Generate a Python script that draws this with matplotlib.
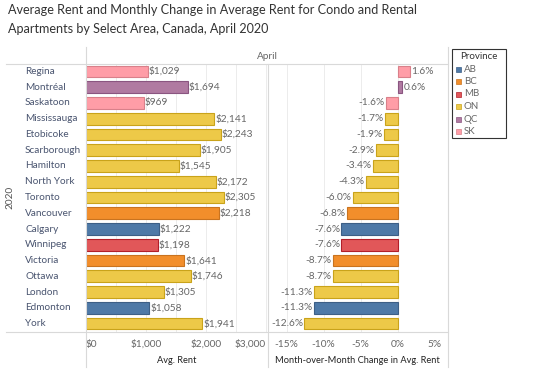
import matplotlib
matplotlib.use("Agg")
import matplotlib.pyplot as plt
from matplotlib.patches import Rectangle
from matplotlib.lines import Line2D

plt.rcParams['font.family'] = ['Lato', 'DejaVu Sans']

cities = ["Regina", "Montréal", "Saskatoon", "Mississauga", "Etobicoke", "Scarborough",
          "Hamilton", "North York", "Toronto", "Vancouver", "Calgary", "Winnipeg",
          "Victoria", "Ottawa", "London", "Edmonton", "York"]
provinces = ["SK", "QC", "SK", "ON", "ON", "ON", "ON", "ON", "ON", "BC", "AB", "MB",
             "BC", "ON", "ON", "AB", "ON"]
avg_rent = [1029, 1694, 969, 2141, 2243, 1905, 1545, 2172, 2305, 2218, 1222, 1198,
            1641, 1746, 1305, 1058, 1941]
mom_change = [1.6, 0.6, -1.6, -1.7, -1.9, -2.9, -3.4, -4.3, -6.0, -6.8, -7.6, -7.6,
              -8.7, -8.7, -11.3, -11.3, -12.6]

legend_provs = ["AB", "BC", "MB", "ON", "QC", "SK"]
prov_colors = {"AB": "#4e79a7", "BC": "#f28e2b", "MB": "#e15759",
               "ON": "#edc948", "QC": "#b07aa1", "SK": "#ff9da7"}
prov_edges = {"AB": "#3d5f86", "BC": "#c9731f", "MB": "#b21f2a",
              "ON": "#c9a31a", "QC": "#8a5580", "SK": "#d9808a"}

rent_ticks = [0, 1000, 2000, 3000]
rent_tick_labels = ["$0", "$1,000", "$2,000", "$3,000"]
pct_ticks = [-15, -10, -5, 0, 5]
pct_tick_labels = ["-15%", "-10%", "-5%", "0%", "5%"]

W, H = 542, 390
fig = plt.figure(figsize=(W / 100, H / 100), dpi=100)

def fx(px):
    return px / W

def fy(py):
    return 1 - py / H

top_px, bot_px = 63.5, 331.5
x0_px, xmid_px, x1_px = 86, 267.5, 448

ax1 = fig.add_axes([fx(x0_px), fy(bot_px), fx(xmid_px - x0_px), (bot_px - top_px) / H])
ax2 = fig.add_axes([fx(xmid_px), fy(bot_px), fx(x1_px - xmid_px), (bot_px - top_px) / H])

n = len(cities)
ypos = list(range(n))
colors = [prov_colors[p] for p in provinces]
edges = [prov_edges[p] for p in provinces]

grid_c = "#ececec"
txt_c = "#666666"
fs = 7.3

ax1.set_xlim(0, (xmid_px - x0_px) / 60 * 1000)
for g in [500, 1000, 1500, 2000, 2500, 3000]:
    ax1.axvline(g, color=grid_c, lw=0.7, zorder=0)
ax1.barh(ypos, avg_rent, height=0.74, color=colors, edgecolor=edges, linewidth=0.8, zorder=2)
for y, v in zip(ypos, avg_rent):
    ax1.text(v + 12, y, f"${v:,}", va="center", ha="left", fontsize=fs, color=txt_c, zorder=3)

ax2.set_xlim(-17.6, 6.8)
for g in [-15, -10, -5, 0]:
    ax2.axvline(g, color=grid_c, lw=0.7, zorder=0)
ax2.barh(ypos, mom_change, height=0.74, color=colors, edgecolor=edges, linewidth=0.8, zorder=2)
for y, v in zip(ypos, mom_change):
    if v >= 0:
        ax2.text(v + 0.2, y, f"{v:.1f}%", va="center", ha="left", fontsize=fs, color=txt_c, zorder=3)
    else:
        ax2.text(v - 0.2, y, f"{v:.1f}%", va="center", ha="right", fontsize=fs, color=txt_c, zorder=3)

for ax in (ax1, ax2):
    ax.set_ylim(n - 0.5, -0.5)
    ax.set_yticks([])
    for s in ax.spines.values():
        s.set_visible(False)
    ax.tick_params(axis="x", length=0, labelsize=fs, labelcolor=txt_c, pad=6)

ax1.set_xticks(rent_ticks)
ax1.set_xticklabels(rent_tick_labels)
tl = ax1.get_xticklabels()
tl[0].set_ha("left")
tl[-1].set_ha("right")
ax2.set_xticks(pct_ticks)
ax2.set_xticklabels(pct_tick_labels)

ax1.set_xlabel("Avg. Rent", fontsize=6.7, color="#222222", labelpad=5)
ax2.set_xlabel("Month-over-Month Change in Avg. Rent", fontsize=6.7, color="#222222", labelpad=5)

# city labels
row_h = (bot_px - top_px) / n
for i, c in enumerate(cities):
    fig.text(fx(25), fy(top_px + row_h * (i + 0.5)), c, ha="left", va="center",
             fontsize=7.2, color="#4a5570")
fig.text(fx(10), fy((top_px + bot_px) / 2), "2020", rotation=90, ha="center", va="center",
         fontsize=7.2, color="#555555")

# header and frame lines
line_c = "#d9d9d9"
fig.add_artist(Line2D([fx(6), fx(x1_px)], [fy(63.5), fy(63.5)], color=line_c, lw=0.8))
fig.add_artist(Line2D([fx(6), fx(x1_px)], [fy(331.7), fy(331.7)], color=line_c, lw=0.8))
for xx in (x0_px, xmid_px, x1_px):
    y_top = 47 if xx != xmid_px else 63.5
    fig.add_artist(Line2D([fx(xx), fx(xx)], [fy(y_top), fy(367)], color=line_c, lw=0.8))
fig.text(fx((x0_px + x1_px) / 2), fy(56.5), "April", ha="center", va="center",
         fontsize=7.2, color="#666666")

# title
fig.text(fx(8), fy(10), "Average Rent and Monthly Change in Average Rent for Condo and Rental",
         ha="left", va="center", fontsize=9.1, color="#333333")
fig.text(fx(8), fy(29), "Apartments by Select Area, Canada, April 2020",
         ha="left", va="center", fontsize=9.1, color="#333333")

# legend
lx0, lx1, ly0, ly1 = 452, 506, 49, 138
fig.add_artist(Rectangle((fx(lx0), fy(ly1)), fx(lx1 - lx0), (ly1 - ly0) / H,
                         fill=False, edgecolor="#333333", lw=0.8))
fig.text(fx((lx0 + lx1) / 2), fy(56.7), "Province", ha="center", va="center",
         fontsize=7, color="#333333")
for i, p in enumerate(legend_provs):
    yy = 69 + 12.5 * i
    fig.add_artist(Rectangle((fx(456), fy(yy + 2.5)), fx(5), 5 / H,
                             facecolor=prov_colors[p], edgecolor=prov_edges[p], lw=0.5))
    fig.text(fx(464), fy(yy), p, ha="left", va="center", fontsize=7, color="#666666")

fig.savefig("out.png", dpi=100)
